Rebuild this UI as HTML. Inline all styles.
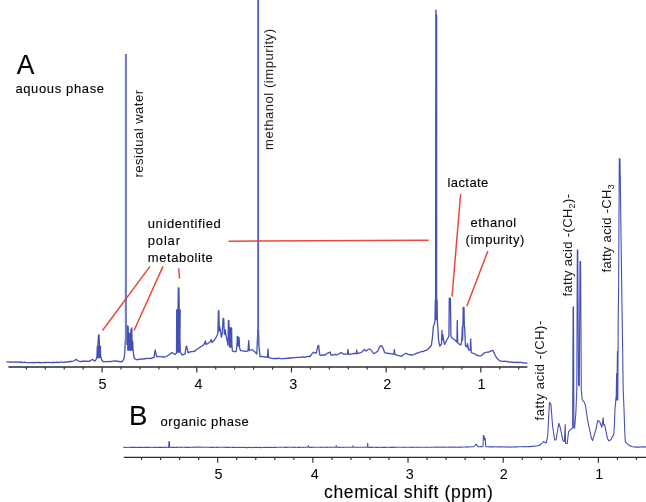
<!DOCTYPE html>
<html><head><meta charset="utf-8"><style>
html,body{margin:0;padding:0;background:#fff;}
body{width:646px;height:502px;overflow:hidden;position:relative;}
svg{position:absolute;left:0;top:0;}
text{font-family:"Liberation Sans",sans-serif;fill:#000;stroke:#000;stroke-width:0.12px;}
.ax{stroke:#2a2a2a;stroke-width:1.35;}
.tk{stroke:#333;stroke-width:1.2;}
.sp{fill:none;stroke:#4650b4;stroke-width:1.3;stroke-linejoin:round;}
.tx{filter:grayscale(1);}
.rd{stroke:#e63a2a;stroke-width:1.5;}
</style></head><body>
<svg width="646" height="502" viewBox="0 0 646 502">
<polyline class="sp" points="6.5,362.0 7.6,361.9 8.8,361.8 9.9,362.2 11.0,361.8 12.1,362.2 13.2,362.1 14.4,361.9 15.5,362.2 16.6,361.9 17.8,362.2 18.9,362.0 20.0,362.3 21.1,362.0 22.2,362.3 23.3,362.6 24.4,362.2 25.6,362.3 26.7,362.6 27.8,362.8 28.9,362.6 30.0,362.6 31.1,362.5 32.2,362.9 33.3,362.3 34.4,362.9 35.6,362.5 36.7,362.4 37.8,362.3 38.9,362.5 40.0,362.8 41.1,362.4 42.2,362.7 43.3,362.7 44.4,362.5 45.6,362.6 46.7,362.3 47.8,362.3 48.9,362.4 50.0,362.6 51.2,362.7 52.3,362.5 53.5,362.3 54.6,362.5 55.8,362.3 56.9,362.2 58.1,362.5 59.2,362.4 60.4,362.0 61.5,362.2 62.7,362.1 63.8,362.3 65.0,362.0 66.2,362.1 67.3,361.7 68.5,362.1 69.7,361.4 70.8,361.5 72.0,361.5 74.5,360.5 76.0,359.4 78.0,360.8 80.0,361.5 81.1,361.6 82.2,361.1 83.3,361.3 84.4,361.0 85.6,361.3 86.7,361.4 87.8,361.2 88.9,361.3 90.0,361.0 91.4,360.0 92.8,359.3 94.0,360.8 95.5,360.5 96.3,359.0 96.9,357.0 97.3,346.5 97.7,357.5 98.1,346.5 98.5,357.5 98.9,346.5 99.3,357.5 99.7,346.5 100.1,357.5 100.5,346.5 97.8,346.0 98.4,336.0 98.7,335.0 99.1,335.0 99.4,346.0 100.2,346.0 100.8,357.0 101.3,358.5 101.8,360.0 103.0,361.5 104.2,361.6 105.3,361.6 106.5,361.6 107.7,361.5 108.8,361.7 110.0,361.5 111.2,361.7 112.5,361.2 113.8,361.2 115.0,361.0 116.2,360.8 117.5,361.4 118.8,361.5 120.0,361.5 122.0,361.8 124.0,358.8 124.8,352.0 125.4,340.0 126.1,340.0 126.6,328.0 127.3,325.8 127.3,325.8 127.8,350.0 128.2,326.5 128.6,350.0 129.1,333.9 129.5,350.0 130.0,333.0 130.4,350.0 130.9,329.4 131.3,350.0 131.8,328.0 132.2,350.0 132.7,341.2 133.1,350.0 133.6,355.0 133.6,355.0 134.5,358.5 136.0,359.5 137.3,359.7 138.7,359.5 140.0,359.2 141.1,359.0 142.2,359.0 143.3,359.1 144.4,358.6 145.6,358.8 146.7,358.5 147.8,358.4 148.9,358.3 150.0,358.5 151.3,358.4 152.7,357.6 154.0,357.5 154.8,352.0 155.3,350.0 156.0,354.0 156.5,356.5 157.7,356.4 158.9,356.6 160.1,357.0 161.4,356.5 162.6,356.8 163.8,357.0 165.0,357.0 166.2,356.5 167.5,355.7 168.8,355.0 170.0,354.0 172.0,352.6 173.5,353.4 175.0,354.5 176.5,353.0 176.7,310.0 177.0,352.0 177.4,310.0 177.7,352.0 178.1,310.0 178.4,352.0 178.8,310.0 179.1,352.0 179.5,310.0 179.8,352.0 180.2,310.0 178.0,309.0 178.3,288.0 178.9,288.0 179.2,309.0 180.3,352.0 180.8,353.0 182.0,355.0 183.5,354.4 185.0,354.0 186.0,347.0 186.7,346.0 187.4,350.0 188.0,352.5 190.0,352.0 191.5,351.7 193.0,351.5 195.0,351.0 197.0,349.0 198.4,348.5 199.8,347.4 202.0,346.0 204.0,344.5 205.4,341.0 206.1,344.5 208.0,343.5 210.0,342.0 211.2,339.4 212.0,342.5 214.0,340.5 215.7,338.2 217.0,335.5 217.9,333.0 218.4,310.7 218.9,310.7 219.3,331.0 219.8,327.0 220.3,329.9 220.7,333.0 221.5,337.0 222.3,333.0 223.1,318.5 223.7,318.5 224.3,333.0 225.0,334.6 225.4,330.0 225.8,334.0 226.5,338.0 227.2,341.2 228.0,345.4 228.4,320.3 228.8,320.3 229.2,328.0 229.6,347.0 230.0,328.0 230.4,347.0 230.8,328.0 231.2,347.0 231.6,328.0 231.6,328.0 231.9,345.0 232.3,350.1 233.0,351.3 234.5,351.7 236.0,351.5 236.9,347.0 237.3,336.4 237.8,336.4 238.2,346.0 238.6,338.0 239.1,337.6 239.6,348.0 240.5,350.7 241.6,350.7 242.8,350.9 243.9,351.1 245.0,351.5 246.5,351.1 248.0,351.0 248.7,340.7 249.4,350.5 250.7,350.0 252.0,349.5 253.5,350.8 255.0,352.0 256.8,354.0 257.4,340.0 257.8,330.0 258.5,330.0 258.9,345.0 260.0,356.5 261.2,356.5 262.5,356.4 263.8,356.8 265.0,357.0 267.5,357.0 268.0,349.0 268.6,357.5 269.7,357.7 270.9,358.1 272.0,358.3 273.2,358.6 274.4,358.5 275.5,358.4 276.7,358.5 277.9,358.5 279.1,358.1 280.3,358.7 281.5,358.6 282.6,358.7 283.8,358.7 285.0,358.5 286.2,358.3 287.3,358.3 288.5,358.0 289.6,358.3 290.8,357.8 291.9,357.7 293.1,357.8 294.2,357.6 295.4,357.7 296.5,357.4 297.7,357.3 298.8,357.3 300.0,357.5 301.1,357.1 302.2,357.2 303.3,356.8 304.4,357.3 305.6,357.0 306.7,356.6 307.8,356.5 308.9,356.5 310.0,356.5 311.2,355.0 312.3,353.4 313.5,352.3 314.9,352.9 316.3,353.0 318.1,345.4 318.6,345.4 319.8,355.0 321.1,355.3 322.4,355.0 323.7,355.0 325.0,355.0 326.3,354.0 327.6,353.2 328.9,352.6 330.2,352.0 331.0,355.0 332.2,354.8 333.3,355.1 334.5,354.5 335.7,354.3 336.8,354.9 338.0,354.5 339.1,353.9 340.3,352.9 341.4,352.5 342.7,353.5 344.0,354.5 345.2,354.0 346.3,354.2 347.5,354.0 347.9,349.3 348.5,354.0 349.6,354.3 350.7,354.1 351.8,353.9 353.0,353.5 354.1,353.5 355.2,353.3 356.3,353.5 356.7,350.0 357.2,353.5 358.4,353.3 359.6,352.8 360.8,352.6 362.0,352.0 364.4,349.5 366.0,351.0 367.1,350.2 368.2,349.5 369.3,349.0 371.0,350.0 373.4,353.5 374.7,353.2 376.0,352.5 378.0,350.8 379.3,347.5 380.5,346.0 382.0,346.0 383.2,348.5 384.6,352.5 386.0,353.1 387.3,353.2 388.6,353.5 390.0,353.5 391.3,353.9 392.7,354.0 394.0,354.0 394.3,349.5 394.8,354.5 396.1,354.7 397.4,355.3 398.7,355.6 400.0,355.8 401.3,356.5 402.7,355.2 404.1,354.3 405.5,353.5 406.6,353.6 407.7,354.2 408.8,354.7 409.9,354.7 411.0,355.0 412.2,355.0 413.3,354.7 414.5,354.3 415.7,353.6 416.8,353.1 418.0,353.0 419.2,352.4 420.3,352.0 421.5,351.6 422.7,351.5 423.8,351.3 425.0,350.6 426.4,350.1 427.8,349.2 429.0,348.0 430.2,346.8 431.4,345.5 432.6,336.0 433.4,326.3 434.4,324.0 435.0,320.4 435.4,300.0 436.4,300.0 436.7,300.0 437.0,300.0 437.4,322.2 438.0,330.0 438.6,340.7 439.8,346.1 440.6,345.0 441.5,344.0 441.9,330.5 442.3,340.0 442.8,334.6 443.4,339.5 444.6,344.3 445.9,341.5 448.0,338.0 448.9,336.0 449.3,298.1 450.4,298.1 450.9,336.0 451.5,337.4 453.6,339.0 455.6,340.8 456.9,342.0 457.3,320.4 457.7,343.0 458.4,343.6 460.9,345.0 461.8,340.0 462.3,326.9 462.6,340.0 462.9,326.0 463.2,307.4 464.0,307.4 464.3,326.0 464.7,327.6 465.4,345.7 466.8,347.1 467.5,343.6 468.5,349.9 470.2,350.0 470.7,339.0 471.2,352.0 471.7,352.7 472.8,353.3 473.9,353.3 475.0,354.0 476.5,355.2 477.9,355.5 479.4,355.9 480.8,355.8 481.9,355.1 483.0,354.1 484.1,353.0 485.5,352.7 487.0,352.1 488.4,352.0 489.5,351.8 490.6,351.0 491.7,350.9 492.8,350.3 496.0,356.8 497.1,358.4 498.2,359.3 499.3,360.6 500.6,360.8 501.9,361.4 503.2,361.4 504.5,361.2 505.8,361.7 507.0,361.5 508.2,361.6 509.3,362.2 510.5,362.2 511.7,361.8 512.9,362.4 514.1,362.5 515.3,362.4 516.4,362.2 517.6,362.5 518.8,362.5 520.0,362.3 521.3,362.3 522.5,363.0 523.7,362.9 524.9,362.9 526.2,363.2 527.4,363.0"/>
<polyline class="sp" style="stroke-width:1.1" points="123.4,447.4 124.5,447.4 125.6,447.5 126.7,447.5 127.8,447.3 128.9,447.3 130.1,447.4 131.2,447.3 132.3,447.4 133.4,447.3 134.5,447.4 135.6,447.3 136.7,447.5 137.8,447.4 138.9,447.4 140.0,447.4 141.1,447.5 142.2,447.4 143.3,447.5 144.5,447.4 145.6,447.4 146.7,447.4 147.8,447.3 148.9,447.4 150.0,447.4 151.2,447.3 152.3,447.3 153.5,447.5 154.7,447.3 155.8,447.4 157.0,447.5 158.1,447.4 159.3,447.4 160.5,447.4 161.6,447.4 162.8,447.5 163.9,447.3 165.1,447.4 166.3,447.3 167.4,447.3 168.6,447.4 169.0,441.5 169.4,441.5 169.8,447.4 170.9,447.5 172.0,447.4 173.2,447.4 174.3,447.4 175.4,447.5 176.5,447.3 177.6,447.4 178.7,447.3 179.9,447.3 181.0,447.4 182.1,447.3 183.2,447.3 184.3,447.3 185.5,447.4 186.6,447.3 187.7,447.4 188.8,447.4 189.9,447.2 191.1,447.3 192.2,447.4 193.3,447.3 194.4,447.1 195.5,447.1 196.6,447.2 197.8,447.1 198.9,447.1 200.0,447.2 201.1,447.1 202.2,447.3 203.3,447.3 204.4,447.3 205.6,447.2 206.7,447.3 207.8,447.3 208.9,447.2 210.0,447.4 211.1,447.4 212.2,447.2 213.3,447.4 214.4,447.3 215.6,447.3 216.7,447.4 217.8,447.4 218.9,447.2 220.0,447.3 221.1,447.3 222.2,447.3 223.3,447.3 224.4,447.3 225.6,447.4 226.7,447.2 227.8,447.4 228.9,447.4 230.0,447.3 231.1,447.3 232.2,447.4 233.3,447.4 234.4,447.3 235.6,447.5 236.7,447.5 237.8,447.5 238.9,447.3 240.0,447.4 241.1,447.3 242.2,447.5 243.3,447.4 244.4,447.4 245.6,447.5 246.7,447.6 247.8,447.6 248.9,447.4 250.0,447.5 251.1,447.4 252.2,447.6 253.3,447.5 254.5,447.5 255.6,447.4 256.7,447.4 257.8,447.5 258.9,447.5 260.0,447.4 261.2,447.6 262.3,447.5 263.4,447.5 264.5,447.4 265.6,447.5 266.7,447.3 267.8,447.5 269.0,447.4 270.1,447.4 271.2,447.4 272.3,447.5 273.4,447.4 274.5,447.3 275.7,447.4 276.8,447.3 277.9,447.3 279.0,447.3 280.1,447.3 281.2,447.3 282.3,447.3 283.5,447.3 284.6,447.4 285.7,447.3 286.8,447.4 287.9,447.3 289.0,447.3 290.2,447.2 291.3,447.3 292.4,447.2 293.5,447.4 294.6,447.4 295.7,447.3 296.8,447.3 298.0,447.4 299.1,447.2 300.2,447.4 301.3,447.3 302.4,447.3 303.5,447.4 304.7,447.3 305.8,447.3 306.9,447.3 308.0,447.3 308.4,445.5 308.8,447.3 309.9,447.4 311.1,447.3 312.2,447.4 313.3,447.3 314.5,447.3 315.6,447.3 316.7,447.3 317.9,447.2 319.0,447.2 320.1,447.2 321.3,447.4 322.4,447.2 323.5,447.2 324.7,447.2 325.8,447.4 326.9,447.4 328.1,447.3 329.2,447.2 330.3,447.2 331.5,447.3 332.6,447.3 333.7,447.2 334.9,447.3 336.0,447.3 336.2,445.5 336.6,447.3 337.7,447.2 338.9,447.4 340.0,447.4 341.2,447.3 342.3,447.2 343.5,447.4 344.6,447.3 345.7,447.3 346.9,447.2 348.0,447.3 349.2,447.3 350.3,447.3 351.5,447.2 352.6,447.3 352.9,445.8 353.3,447.3 354.5,447.3 355.6,447.2 356.8,447.2 358.0,447.2 359.2,447.3 360.4,447.2 361.5,447.2 362.7,447.3 363.9,447.2 365.0,447.3 366.2,447.3 367.4,447.3 367.7,443.4 368.0,447.3 369.1,447.4 370.2,447.3 371.3,447.4 372.4,447.4 373.5,447.3 374.6,447.3 375.7,447.4 376.9,447.2 378.0,447.4 379.1,447.3 380.2,447.2 381.3,447.4 382.4,447.4 383.5,447.3 384.6,447.4 385.7,447.4 386.8,447.2 387.9,447.3 389.0,447.3 390.1,447.4 391.2,447.4 392.3,447.4 393.4,447.3 394.6,447.4 395.7,447.3 396.8,447.3 397.9,447.2 399.0,447.2 400.1,447.2 401.2,447.3 402.3,447.2 403.4,447.4 404.5,447.3 405.6,447.3 406.7,447.3 407.8,447.3 408.9,447.3 410.0,447.2 411.1,447.4 412.3,447.4 413.4,447.3 414.5,447.3 415.6,447.3 416.7,447.2 417.8,447.4 418.9,447.2 420.0,447.3 421.1,447.2 422.2,447.2 423.3,447.3 424.4,447.2 425.6,447.3 426.7,447.4 427.8,447.3 428.9,447.2 430.0,447.2 431.1,447.3 432.2,447.3 433.3,447.2 434.4,447.2 435.6,447.1 436.7,447.1 437.8,447.1 438.9,447.2 440.0,447.1 441.1,447.2 442.2,447.0 443.3,447.1 444.4,447.1 445.6,447.2 446.7,447.2 447.8,447.2 448.9,447.1 450.0,447.1 451.1,447.1 452.2,447.1 453.3,447.0 454.4,447.2 455.6,447.0 456.7,447.2 457.8,447.2 458.9,447.0 460.0,447.1 461.1,447.1 462.2,447.2 463.3,447.0 464.4,447.0 465.6,447.0 466.7,447.1 467.8,446.9 468.9,447.0 470.0,447.0 471.3,446.7 472.7,446.7 474.0,446.5 476.2,444.1 478.0,446.6 479.2,446.7 480.5,446.5 481.8,446.7 483.0,446.6 483.4,435.5 484.0,435.5 484.6,440.0 485.2,438.3 485.8,446.6 487.0,446.8 488.1,446.8 489.3,446.9 490.4,446.9 491.6,446.8 492.8,446.9 493.9,446.9 495.1,446.8 496.2,446.8 497.4,446.9 498.5,446.9 499.6,446.9 500.8,446.8 501.9,446.9 503.1,446.9 504.2,447.0 505.4,446.8 506.6,447.0 507.7,447.1 508.9,446.9 510.0,447.0 511.1,447.1 512.2,447.0 513.3,447.0 514.4,446.9 515.6,446.9 516.7,446.8 517.8,447.0 518.9,446.8 520.0,446.8 521.1,446.8 522.2,446.7 523.3,446.6 524.4,446.6 525.6,446.8 526.7,446.6 527.8,446.7 528.9,446.6 530.0,446.6 531.2,446.4 532.4,446.4 533.6,446.2 534.8,446.1 536.0,446.0 537.6,445.8 539.3,445.4 540.5,444.5 541.8,443.4 543.0,442.3 543.5,441.4 545.5,443.0 546.3,442.8 547.7,435.8 549.5,402.3 550.9,404.4 552.6,426.0 554.7,440.0 556.0,440.0 558.8,423.3 560.2,427.4 563.0,440.7 564.4,441.4 565.2,424.6 565.6,443.5 567.2,443.5 568.6,431.6 570.0,430.2 571.4,428.8 572.6,428.0 573.1,306.9 573.5,306.9 573.9,428.0 574.6,428.2 575.8,413.8 576.8,390.0 577.3,250.0 577.8,250.0 578.5,385.0 579.3,386.0 580.0,261.5 580.6,261.5 581.3,389.9 582.2,399.5 583.0,401.0 584.2,401.9 585.4,405.4 587.8,421.0 591.3,437.8 592.5,440.6 595.8,430.2 597.7,420.4 599.7,421.8 601.8,427.4 603.2,417.9 603.6,425.0 604.6,424.6 606.0,431.6 607.5,438.7 609.0,440.9 611.0,439.5 612.5,436.6 613.8,434.4 614.5,423.0 615.0,408.7 615.5,404.4 616.0,397.0 615.8,400.0 616.2,400.0 616.6,373.5 617.0,400.0 617.4,351.5 617.8,400.0 618.2,320.0 618.2,320.0 618.6,290.0 619.3,158.8 620.0,158.8 621.6,280.0 622.5,340.0 623.2,390.0 624.0,408.7 624.7,430.0 625.3,441.6 626.5,443.0 627.7,444.1 628.8,445.0 630.0,445.9 631.3,446.3 632.7,446.7 634.0,447.0 635.2,446.9 636.4,447.1 637.6,447.0 638.8,447.1 640.0,447.0 641.2,446.9 642.4,446.9 643.6,447.1 644.8,446.9 646.0,447.0"/>
<line x1="125.9" y1="53.9" x2="125.9" y2="345" stroke="#7378c2" stroke-width="2.1"/>
<line x1="258.15" y1="0" x2="258.15" y2="345" stroke="#5a61ba" stroke-width="1.9"/>
<path d="M434.9,320 L435.2,10 Q435.9,8.6 436.6,10 L436.6,14 L437.3,15.2 L437.3,320 Z" fill="#4a53ae"/>
<g style="opacity:0.92">
<line class="rd" x1="228.5" y1="241.2" x2="428.6" y2="240.3"/>
<line class="rd" x1="150" y1="266.4" x2="102.5" y2="330.5"/>
<line class="rd" x1="163" y1="266.4" x2="134" y2="330.5"/>
<line class="rd" x1="178.7" y1="268.3" x2="179.5" y2="278.6"/>
<line class="rd" x1="460.6" y1="194.2" x2="452" y2="296.6"/>
<line class="rd" x1="487.9" y1="250.9" x2="466.8" y2="306.2"/>
</g>
<g class="tx"><line x1="8.4" y1="367" x2="527.4" y2="367" class="ax"/>
<line x1="26.36" y1="367" x2="26.36" y2="369.6" class="tk"/>
<line x1="45.29" y1="367" x2="45.29" y2="369.6" class="tk"/>
<line x1="64.23" y1="367" x2="64.23" y2="369.6" class="tk"/>
<line x1="83.16" y1="367" x2="83.16" y2="369.6" class="tk"/>
<line x1="102.10" y1="367" x2="102.10" y2="372.5" class="tk"/>
<text style="stroke-width:0" transform="translate(102.6,388.7) scale(1.03,1)" font-size="14" text-anchor="middle">5</text>
<line x1="121.04" y1="367" x2="121.04" y2="369.6" class="tk"/>
<line x1="139.97" y1="367" x2="139.97" y2="369.6" class="tk"/>
<line x1="158.91" y1="367" x2="158.91" y2="369.6" class="tk"/>
<line x1="177.84" y1="367" x2="177.84" y2="369.6" class="tk"/>
<line x1="196.78" y1="367" x2="196.78" y2="372.5" class="tk"/>
<text style="stroke-width:0" transform="translate(198.58,388.7) scale(1.03,1)" font-size="14" text-anchor="middle">4</text>
<line x1="215.72" y1="367" x2="215.72" y2="369.6" class="tk"/>
<line x1="234.65" y1="367" x2="234.65" y2="369.6" class="tk"/>
<line x1="253.59" y1="367" x2="253.59" y2="369.6" class="tk"/>
<line x1="272.52" y1="367" x2="272.52" y2="369.6" class="tk"/>
<line x1="291.46" y1="367" x2="291.46" y2="372.5" class="tk"/>
<text style="stroke-width:0" transform="translate(293.26,388.7) scale(1.03,1)" font-size="14" text-anchor="middle">3</text>
<line x1="310.40" y1="367" x2="310.40" y2="369.6" class="tk"/>
<line x1="329.33" y1="367" x2="329.33" y2="369.6" class="tk"/>
<line x1="348.27" y1="367" x2="348.27" y2="369.6" class="tk"/>
<line x1="367.20" y1="367" x2="367.20" y2="369.6" class="tk"/>
<line x1="386.14" y1="367" x2="386.14" y2="372.5" class="tk"/>
<text style="stroke-width:0" transform="translate(387.24,388.7) scale(1.03,1)" font-size="14" text-anchor="middle">2</text>
<line x1="405.08" y1="367" x2="405.08" y2="369.6" class="tk"/>
<line x1="424.01" y1="367" x2="424.01" y2="369.6" class="tk"/>
<line x1="442.95" y1="367" x2="442.95" y2="369.6" class="tk"/>
<line x1="461.88" y1="367" x2="461.88" y2="369.6" class="tk"/>
<line x1="480.82" y1="367" x2="480.82" y2="372.5" class="tk"/>
<text style="stroke-width:0" transform="translate(481.52,388.7) scale(1.03,1)" font-size="14" text-anchor="middle">1</text>
<line x1="499.76" y1="367" x2="499.76" y2="369.6" class="tk"/>
<line x1="518.69" y1="367" x2="518.69" y2="369.6" class="tk"/>
<line x1="123.8" y1="457.3" x2="646" y2="457.3" class="ax"/>
<line x1="141.56" y1="457.3" x2="141.56" y2="459.90000000000003" class="tk"/>
<line x1="160.60" y1="457.3" x2="160.60" y2="459.90000000000003" class="tk"/>
<line x1="179.63" y1="457.3" x2="179.63" y2="459.90000000000003" class="tk"/>
<line x1="198.67" y1="457.3" x2="198.67" y2="459.90000000000003" class="tk"/>
<line x1="217.70" y1="457.3" x2="217.70" y2="462.8" class="tk"/>
<text style="stroke-width:0" transform="translate(218.6,478.8) scale(1.03,1)" font-size="14" text-anchor="middle">5</text>
<line x1="236.73" y1="457.3" x2="236.73" y2="459.90000000000003" class="tk"/>
<line x1="255.77" y1="457.3" x2="255.77" y2="459.90000000000003" class="tk"/>
<line x1="274.80" y1="457.3" x2="274.80" y2="459.90000000000003" class="tk"/>
<line x1="293.84" y1="457.3" x2="293.84" y2="459.90000000000003" class="tk"/>
<line x1="312.87" y1="457.3" x2="312.87" y2="462.8" class="tk"/>
<text style="stroke-width:0" transform="translate(314.87,478.8) scale(1.03,1)" font-size="14" text-anchor="middle">4</text>
<line x1="331.90" y1="457.3" x2="331.90" y2="459.90000000000003" class="tk"/>
<line x1="350.94" y1="457.3" x2="350.94" y2="459.90000000000003" class="tk"/>
<line x1="369.97" y1="457.3" x2="369.97" y2="459.90000000000003" class="tk"/>
<line x1="389.01" y1="457.3" x2="389.01" y2="459.90000000000003" class="tk"/>
<line x1="408.04" y1="457.3" x2="408.04" y2="462.8" class="tk"/>
<text style="stroke-width:0" transform="translate(409.74,478.8) scale(1.03,1)" font-size="14" text-anchor="middle">3</text>
<line x1="427.07" y1="457.3" x2="427.07" y2="459.90000000000003" class="tk"/>
<line x1="446.11" y1="457.3" x2="446.11" y2="459.90000000000003" class="tk"/>
<line x1="465.14" y1="457.3" x2="465.14" y2="459.90000000000003" class="tk"/>
<line x1="484.18" y1="457.3" x2="484.18" y2="459.90000000000003" class="tk"/>
<line x1="503.21" y1="457.3" x2="503.21" y2="462.8" class="tk"/>
<text style="stroke-width:0" transform="translate(503.81,478.8) scale(1.03,1)" font-size="14" text-anchor="middle">2</text>
<line x1="522.24" y1="457.3" x2="522.24" y2="459.90000000000003" class="tk"/>
<line x1="541.28" y1="457.3" x2="541.28" y2="459.90000000000003" class="tk"/>
<line x1="560.31" y1="457.3" x2="560.31" y2="459.90000000000003" class="tk"/>
<line x1="579.35" y1="457.3" x2="579.35" y2="459.90000000000003" class="tk"/>
<line x1="598.38" y1="457.3" x2="598.38" y2="462.8" class="tk"/>
<text style="stroke-width:0" transform="translate(599.38,478.8) scale(1.03,1)" font-size="14" text-anchor="middle">1</text>
<line x1="617.41" y1="457.3" x2="617.41" y2="459.90000000000003" class="tk"/>
<line x1="636.45" y1="457.3" x2="636.45" y2="459.90000000000003" class="tk"/></g>
<g class="tx">
<text transform="translate(16.8,73.8) scale(0.93,1)" font-size="28.5">A</text>
<text transform="translate(128.9,425.3) scale(0.97,1)" font-size="28.5">B</text>
<text x="15.40" y="92.50" font-size="13" textLength="88.60" lengthAdjust="spacing">aquous phase</text>
<text x="160.50" y="425.50" font-size="13" textLength="88.20" lengthAdjust="spacing">organic phase</text>
<text x="147.80" y="228.40" font-size="13" textLength="73.00" lengthAdjust="spacing">unidentified</text>
<text x="147.80" y="245.00" font-size="13" textLength="32.20" lengthAdjust="spacing">polar</text>
<text x="147.80" y="262.10" font-size="13" textLength="65.00" lengthAdjust="spacing">metabolite</text>
<text x="447.50" y="186.60" font-size="13" textLength="40.80" lengthAdjust="spacing">lactate</text>
<text x="470.50" y="226.90" font-size="13" textLength="45.60" lengthAdjust="spacing">ethanol</text>
<text x="465.60" y="243.70" font-size="13" textLength="58.70" lengthAdjust="spacing">(impurity)</text>
<text x="324.00" y="497.50" font-size="17.5" textLength="168.90" lengthAdjust="spacing">chemical shift (ppm)</text>
<text transform="translate(142.90,177.50) rotate(-90)" font-size="13" style="stroke-width:0px;fill:#161616" textLength="87.50" lengthAdjust="spacing">residual water</text>
<text transform="translate(273.10,150.00) rotate(-90)" font-size="13" style="stroke-width:0px;fill:#161616" textLength="121.00" lengthAdjust="spacing">methanol (impurity)</text>
<text transform="translate(543.80,420.40) rotate(-90)" font-size="13" style="stroke-width:0px;fill:#161616" textLength="99.70" lengthAdjust="spacing">fatty acid -(CH)-</text>
<text transform="translate(571.70,296.50) rotate(-90)" font-size="13" style="stroke-width:0px;fill:#161616" textLength="102.50" lengthAdjust="spacing">fatty acid -(CH<tspan font-size="9" dy="3.5">2</tspan><tspan dy="-3.5">)-</tspan></text>
<text transform="translate(610.70,272.50) rotate(-90)" font-size="13" style="stroke-width:0px;fill:#161616" textLength="88.30" lengthAdjust="spacing">fatty acid -CH<tspan font-size="9" dy="3.5">3</tspan></text>
</g>
</svg>
</body></html>
